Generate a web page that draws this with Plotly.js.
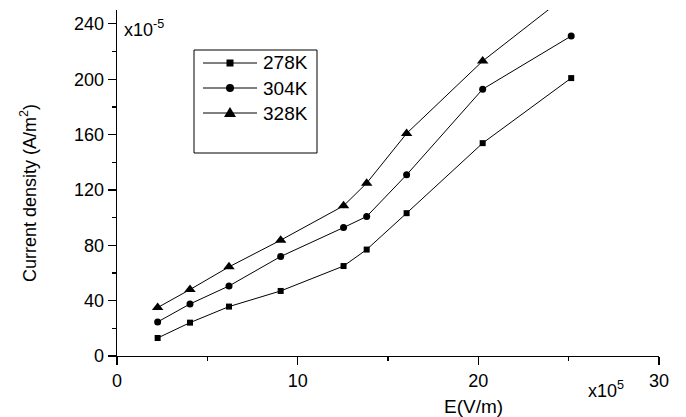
<!DOCTYPE html>
<html>
<head>
<meta charset="utf-8">
<script src="https://cdn.plot.ly/plotly-3.0.1.min.js"></script>
<style>html,body{margin:0;padding:0;background:#fff;}#chart{width:686px;height:417px;}</style>
</head>
<body>
<div id="chart"></div>
<script>
var fieldE = [2.25, 4.04, 6.2, 9.06, 12.54, 13.82, 16.03, 20.24, 25.14];
var j278 = [13, 24.1, 35.7, 47, 65, 76.9, 103.2, 153.8, 200.8];
var j304 = [24.6, 37.6, 50.6, 71.9, 92.8, 100.8, 130.9, 192.8, 231.2];
var j328 = [35, 48, 64.4, 83.7, 108.5, 124.9, 160.8, 213.1, 263];
var seriesNames = ['278K', '304K', '328K'];
var xTicks = [0, 10, 20, 30];
var yTicks = [0, 40, 80, 120, 160, 200, 240];

var FONT = 'Liberation Sans, Arial, sans-serif';
var ML = 117, MR = 27, MT = 10, MB = 61, W = 686, H = 417;
var PW = W - ML - MR, PH = H - MT - MB;
function px(x) { return (x - ML) / PW; }
function py(y) { return (H - MB - y) / PH; }

function tr(y, name, sym, size) {
  return {
    x: fieldE, y: y, name: name, type: 'scatter', mode: 'lines+markers',
    line: {color: '#000', width: 1},
    marker: {symbol: sym, size: size, color: '#000'}
  };
}
var data = [
  tr(j278, seriesNames[0], 'square', 6),
  tr(j304, seriesNames[1], 'circle', 7),
  tr(j328, seriesNames[2], 'triangle-up', 10)
];
var axisCommon = {
  showline: true, linecolor: '#000', linewidth: 1.3, showgrid: false, zeroline: false,
  ticks: 'outside', ticklen: 8, tickwidth: 1.3, tickcolor: '#000',
  tickfont: {family: FONT, size: 18, color: '#000'}
};

// legend drawn as shapes + annotations (box, sample lines, symbols, labels)
var legRows = [63, 88, 113];
var shapes = [
  {type: 'rect', xref: 'paper', yref: 'paper', x0: px(194), x1: px(317),
   y0: py(153), y1: py(50), line: {color: '#000', width: 1}}
];
var annotations = [];
legRows.forEach(function (ry, i) {
  shapes.push({type: 'line', xref: 'paper', yref: 'paper', x0: px(203), x1: px(257), y0: py(ry), y1: py(ry),
               line: {color: '#000', width: 1}});
  var base = {xref: 'paper', yref: 'paper', xsizemode: 'pixel', ysizemode: 'pixel',
              xanchor: px(230), yanchor: py(ry), x0: 0, y0: 0,
              fillcolor: '#000', line: {color: '#000', width: 0}};
  if (i === 0) shapes.push(Object.assign({}, base, {type: 'rect', x0: -3.5, x1: 3.5, y0: -3.5, y1: 3.5}));
  if (i === 1) shapes.push(Object.assign({}, base, {type: 'circle', x0: -4, x1: 4, y0: -4, y1: 4}));
  if (i === 2) shapes.push(Object.assign({}, base, {type: 'path', path: 'M-6,-4L6,-4L0,6Z'}));
  annotations.push({text: seriesNames[i], xref: 'paper', yref: 'paper', x: px(261), y: py(ry),
                    xanchor: 'left', yanchor: 'middle', showarrow: false,
                    font: {family: FONT, size: 19, color: '#000'}});
});

annotations.push(
  {text: 'x10<sup>-5</sup>', xref: 'paper', yref: 'paper', x: px(122), y: py(28),
   xanchor: 'left', yanchor: 'middle', showarrow: false, font: {family: FONT, size: 18}},
  {text: 'x10<sup>5</sup>', xref: 'paper', yref: 'paper', x: px(586), y: py(389),
   xanchor: 'left', yanchor: 'middle', showarrow: false, font: {family: FONT, size: 18}},
  {text: 'E(V/m)', xref: 'paper', yref: 'paper', x: px(473), y: py(406),
   xanchor: 'center', yanchor: 'middle', showarrow: false, font: {family: FONT, size: 19}},
  {text: 'Current density (A/m<sup>2</sup>)', xref: 'paper', yref: 'paper', x: px(28), y: py(193),
   xanchor: 'center', yanchor: 'middle', textangle: -90, showarrow: false, font: {family: FONT, size: 18}}
);

var layout = {
  width: W, height: H,
  margin: {l: ML, r: MR, t: MT, b: MB},
  paper_bgcolor: '#fff', plot_bgcolor: '#fff',
  font: {family: FONT, color: '#000'},
  showlegend: false,
  xaxis: Object.assign({}, axisCommon, {range: [0, 30], tickvals: xTicks, ticktext: xTicks.map(String),
          minor: {dtick: 5, ticks: 'outside', ticklen: 4, tickcolor: '#000', tickwidth: 1.3}}),
  yaxis: Object.assign({}, axisCommon, {range: [0, 250], tickvals: yTicks, ticktext: yTicks.map(String),
          minor: {dtick: 20, ticks: 'outside', ticklen: 4, tickcolor: '#000', tickwidth: 1.3}}),
  shapes: shapes,
  annotations: annotations
};
Plotly.newPlot('chart', data, layout, {staticPlot: true, displayModeBar: false});
</script>
</body>
</html>
